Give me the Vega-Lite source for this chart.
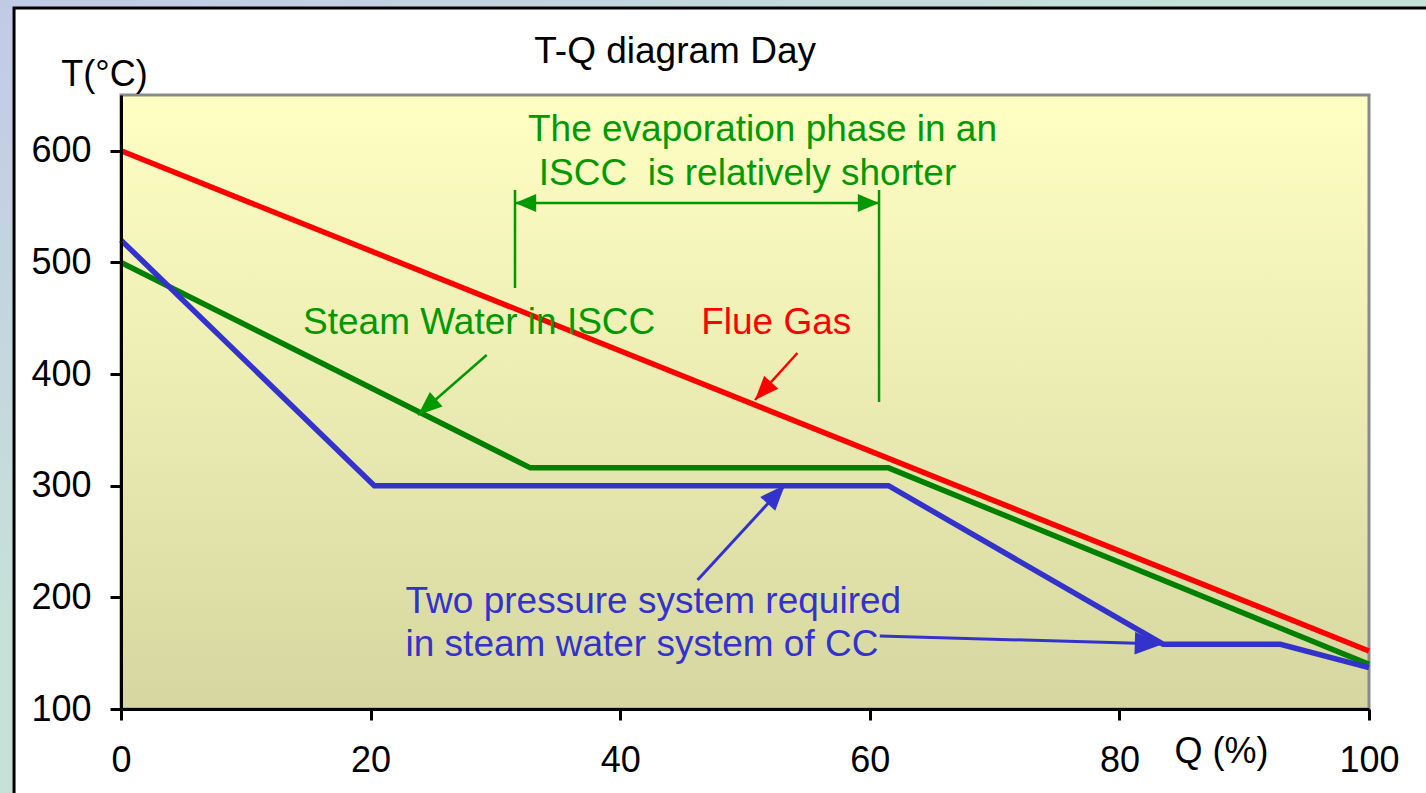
{
  "$schema": "https://vega.github.io/schema/vega-lite/v6.json",
  "width": 1248,
  "height": 614,
  "autosize": {"type": "none"},
  "padding": {"left": 121, "top": 95, "right": 57, "bottom": 84},
  "background": "#c4d6de",
  "config": {
    "view": {"stroke": null},
    "font": "Liberation Sans"
  },
  "datasets": {
    "curves": [
      {"series": "Flue Gas", "q": 0, "t": 600},
      {"series": "Flue Gas", "q": 100, "t": 152},
      {"series": "Steam Water in ISCC", "q": 0, "t": 500},
      {"series": "Steam Water in ISCC", "q": 32.8, "t": 316},
      {"series": "Steam Water in ISCC", "q": 61.5, "t": 316},
      {"series": "Steam Water in ISCC", "q": 100, "t": 140},
      {"series": "Steam Water in CC", "q": 0, "t": 520},
      {"series": "Steam Water in CC", "q": 20.3, "t": 300},
      {"series": "Steam Water in CC", "q": 61.5, "t": 300},
      {"series": "Steam Water in CC", "q": 83.5, "t": 158},
      {"series": "Steam Water in CC", "q": 92.9, "t": 158},
      {"series": "Steam Water in CC", "q": 100, "t": 137}
    ],
    "dimension": [
      {"q": 31.57, "t": 564.9, "q2": 31.57, "t2": 477.1},
      {"q": 60.74, "t": 564.9, "q2": 60.74, "t2": 375},
      {"q": 31.57, "t": 553.2, "q2": 60.74, "t2": 553.2}
    ],
    "greenText": [
      {"label": "The evaporation phase in an", "q": 51.4, "t": 609},
      {"label": "ISCC\u00a0 is relatively shorter", "q": 50.2, "t": 569.4},
      {"label": "Steam Water in ISCC", "q": 28.7, "t": 436}
    ],
    "redText": [{"label": "Flue Gas", "q": 52.5, "t": 436}],
    "blueText": [
      {"label": "Two pressure system required", "q": 22.8, "t": 186},
      {"label": "in steam water system of CC", "q": 22.8, "t": 147.5}
    ],
    "titleText": [{"label": "T-Q diagram Day", "q": 44.4, "t": 678.6}]
  },
  "layer": [
    {
      "data": {"values": [{}]},
      "mark": {"type": "rect", "color": {"gradient": "linear", "x1": 0, "y1": 0, "x2": 0.4, "y2": 0.4,
        "stops": [{"offset": 0, "color": "#c1c8e7"}, {"offset": 1, "color": "#c5e1d8"}]}},
      "encoding": {
        "x": {"datum": -15, "type": "quantitative", "scale": {"domain": [0, 100], "nice": false, "zero": false}, "title": "Q (%)",
          "axis": {"values": [0, 20, 40, 60, 80, 100], "zindex": 2,
            "domainColor": "#000000", "domainWidth": 3, "tickColor": "#000000", "tickWidth": 3, "tickSize": 11,
            "labelFontSize": 36, "labelColor": "#000000", "labelFont": "Liberation Sans", "labelBaseline": "alphabetic",
            "labelPadding": 51, "labelFlush": false, "labelOverlap": false, "labelBound": false, "grid": false,
            "titleFontSize": 36, "titleFontWeight": "normal", "titleColor": "#000000", "titleFont": "Liberation Sans",
            "titleX": 1100, "titleY": 53, "titleBaseline": "alphabetic", "titleAlign": "center"}},
        "x2": {"datum": 115},
        "y": {"datum": 0, "type": "quantitative", "scale": {"domain": [100, 650], "nice": false, "zero": false}, "title": "T(°C)",
          "axis": {"values": [100, 200, 300, 400, 500, 600], "zindex": 2,
            "domainColor": "#000000", "domainWidth": 3, "tickColor": "#000000", "tickWidth": 3, "tickSize": 11,
            "labelFontSize": 36, "labelColor": "#000000", "labelFont": "Liberation Sans", "labelBaseline": "middle",
            "labelPadding": 19, "labelFlush": false, "labelOverlap": false, "labelBound": false, "grid": false,
            "titleFontSize": 36, "titleFontWeight": "normal", "titleColor": "#000000", "titleFont": "Liberation Sans",
            "titleAngle": 0, "titleX": -17, "titleY": -10, "titleBaseline": "alphabetic", "titleAlign": "center"}},
        "y2": {"datum": 760}
      }
    },
    {
      "data": {"values": [{}]},
      "mark": {"type": "rect", "fill": "#ffffff", "stroke": "#000000", "strokeWidth": 3},
      "encoding": {
        "x": {"datum": -8.57, "type": "quantitative", "title": "Q (%)"},
        "x2": {"datum": 120},
        "y": {"datum": -10, "type": "quantitative", "title": "T(°C)"},
        "y2": {"datum": 727.9}
      }
    },
    {
      "data": {"values": [{}]},
      "mark": {"type": "rect", "stroke": "#8a8a8a", "strokeWidth": 3,
        "fill": {"gradient": "linear", "x1": 0, "y1": 0, "x2": 0, "y2": 1,
          "stops": [{"offset": 0, "color": "#ffffc4"}, {"offset": 1, "color": "#d6d7a0"}]}},
      "encoding": {
        "x": {"datum": 0, "type": "quantitative", "title": "Q (%)"},
        "x2": {"datum": 100},
        "y": {"datum": 100, "type": "quantitative", "title": "T(°C)"},
        "y2": {"datum": 650}
      }
    },
    {
      "data": {"name": "curves"},
      "mark": {"type": "line", "strokeWidth": 5.5, "strokeCap": "butt", "strokeJoin": "miter"},
      "encoding": {
        "x": {"field": "q", "type": "quantitative", "title": "Q (%)"},
        "y": {"field": "t", "type": "quantitative", "title": "T(°C)"},
        "color": {"field": "series", "type": "nominal", "legend": null,
          "scale": {"domain": ["Flue Gas", "Steam Water in ISCC", "Steam Water in CC"], "range": ["#ff0000", "#008000", "#3333cc"]}}
      }
    },
    {
      "data": {"name": "dimension"},
      "mark": {"type": "rule", "color": "#009900", "strokeWidth": 2.5},
      "encoding": {
        "x": {"field": "q", "type": "quantitative", "title": "Q (%)"},
        "y": {"field": "t", "type": "quantitative", "title": "T(°C)"},
        "x2": {"field": "q2"},
        "y2": {"field": "t2"}
      }
    },
    {
      "data": {"values": [{"q": 31.57, "t": 553.2}]},
      "mark": {"type": "point", "shape": "M0,0L-0.85,2L0.85,2Z", "filled": true, "opacity": 1, "color": "#009900", "size": 450, "angle": 270},
      "encoding": {"x": {"field": "q", "type": "quantitative", "title": "Q (%)"}, "y": {"field": "t", "type": "quantitative", "title": "T(°C)"}}
    },
    {
      "data": {"values": [{"q": 60.74, "t": 553.2}]},
      "mark": {"type": "point", "shape": "M0,0L-0.85,2L0.85,2Z", "filled": true, "opacity": 1, "color": "#009900", "size": 450, "angle": 90},
      "encoding": {"x": {"field": "q", "type": "quantitative", "title": "Q (%)"}, "y": {"field": "t", "type": "quantitative", "title": "T(°C)"}}
    },
    {
      "data": {"values": [{"q": 29.3, "t": 417.1, "q2": 23.8, "t2": 363.3}]},
      "layer": [
        {"mark": {"type": "rule", "color": "#009900", "strokeWidth": 2.5},
         "encoding": {"x": {"field": "q", "type": "quantitative", "title": "Q (%)"}, "y": {"field": "t", "type": "quantitative", "title": "T(°C)"}, "x2": {"field": "q2"}, "y2": {"field": "t2"}}},
        {"mark": {"type": "point", "shape": "M0,0L-0.8,2L0.8,2Z", "filled": true, "opacity": 1, "color": "#009900", "size": 580, "angle": 229},
         "encoding": {"x": {"field": "q2", "type": "quantitative", "title": "Q (%)"}, "y": {"field": "t2", "type": "quantitative", "title": "T(°C)"}}}
      ]
    },
    {
      "data": {"values": [{"q": 54.2, "t": 418.9, "q2": 50.8, "t2": 376.8}]},
      "layer": [
        {"mark": {"type": "rule", "color": "#ff0000", "strokeWidth": 2.5},
         "encoding": {"x": {"field": "q", "type": "quantitative", "title": "Q (%)"}, "y": {"field": "t", "type": "quantitative", "title": "T(°C)"}, "x2": {"field": "q2"}, "y2": {"field": "t2"}}},
        {"mark": {"type": "point", "shape": "M0,0L-0.8,2L0.8,2Z", "filled": true, "opacity": 1, "color": "#ff0000", "size": 580, "angle": 222.5},
         "encoding": {"x": {"field": "q2", "type": "quantitative", "title": "Q (%)"}, "y": {"field": "t2", "type": "quantitative", "title": "T(°C)"}}}
      ]
    },
    {
      "data": {"values": [{"q": 46.2, "t": 215.5, "q2": 53.2, "t2": 300.6}]},
      "layer": [
        {"mark": {"type": "rule", "color": "#3333cc", "strokeWidth": 3},
         "encoding": {"x": {"field": "q", "type": "quantitative", "title": "Q (%)"}, "y": {"field": "t", "type": "quantitative", "title": "T(°C)"}, "x2": {"field": "q2"}, "y2": {"field": "t2"}}},
        {"mark": {"type": "point", "shape": "M0,0L-0.8,2L0.8,2Z", "filled": true, "opacity": 1, "color": "#3333cc", "size": 650, "angle": 42.5},
         "encoding": {"x": {"field": "q2", "type": "quantitative", "title": "Q (%)"}, "y": {"field": "t2", "type": "quantitative", "title": "T(°C)"}}}
      ]
    },
    {
      "data": {"values": [{"q": 60.8, "t": 165.4, "q2": 83.5, "t2": 158.2}]},
      "layer": [
        {"mark": {"type": "rule", "color": "#3333cc", "strokeWidth": 3},
         "encoding": {"x": {"field": "q", "type": "quantitative", "title": "Q (%)"}, "y": {"field": "t", "type": "quantitative", "title": "T(°C)"}, "x2": {"field": "q2"}, "y2": {"field": "t2"}}},
        {"mark": {"type": "point", "shape": "M0,0L-0.8,2L0.8,2Z", "filled": true, "opacity": 1, "color": "#3333cc", "size": 800, "angle": 91.6},
         "encoding": {"x": {"field": "q2", "type": "quantitative", "title": "Q (%)"}, "y": {"field": "t2", "type": "quantitative", "title": "T(°C)"}}}
      ]
    },
    {
      "data": {"name": "greenText"},
      "mark": {"type": "text", "color": "#009900", "fontSize": 37, "font": "Liberation Sans", "align": "center", "baseline": "alphabetic"},
      "encoding": {"x": {"field": "q", "type": "quantitative", "title": "Q (%)"}, "y": {"field": "t", "type": "quantitative", "title": "T(°C)"}, "text": {"field": "label"}}
    },
    {
      "data": {"name": "redText"},
      "mark": {"type": "text", "color": "#ff0000", "fontSize": 37, "font": "Liberation Sans", "align": "center", "baseline": "alphabetic"},
      "encoding": {"x": {"field": "q", "type": "quantitative", "title": "Q (%)"}, "y": {"field": "t", "type": "quantitative", "title": "T(°C)"}, "text": {"field": "label"}}
    },
    {
      "data": {"name": "blueText"},
      "mark": {"type": "text", "color": "#3333cc", "fontSize": 37, "font": "Liberation Sans", "align": "left", "baseline": "alphabetic"},
      "encoding": {"x": {"field": "q", "type": "quantitative", "title": "Q (%)"}, "y": {"field": "t", "type": "quantitative", "title": "T(°C)"}, "text": {"field": "label"}}
    },
    {
      "data": {"name": "titleText"},
      "mark": {"type": "text", "color": "#000000", "fontSize": 37, "font": "Liberation Sans", "align": "center", "baseline": "alphabetic"},
      "encoding": {"x": {"field": "q", "type": "quantitative", "title": "Q (%)"}, "y": {"field": "t", "type": "quantitative", "title": "T(°C)"}, "text": {"field": "label"}}
    }
  ]
}
